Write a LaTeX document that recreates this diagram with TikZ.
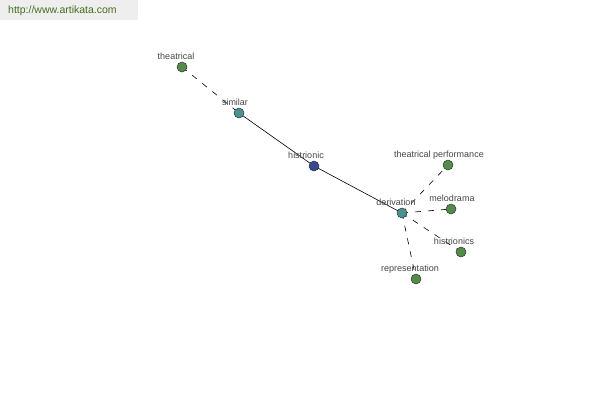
\documentclass[tikz,border=0pt]{standalone}
\usepackage{fontspec}
\setmainfont{Liberation Sans}
\definecolor{gnode}{RGB}{82,140,72}
\definecolor{tnode}{RGB}{74,146,146}
\definecolor{bnode}{RGB}{56,72,146}
\definecolor{lbl}{RGB}{70,70,70}
\definecolor{hdrbg}{RGB}{238,238,238}
\definecolor{hdrtx}{RGB}{70,110,30}
\begin{document}
\begin{tikzpicture}[x=1pt,y=-1pt,
  vert/.style={circle,draw=black!80,line width=0.5pt,minimum size=10pt,inner sep=0pt},
  gv/.style={vert,fill=gnode},
  tv/.style={vert,fill=tnode},
  bv/.style={vert,fill=bnode},
  lab/.style={font=\fontsize{9}{10}\selectfont,text=lbl,inner sep=0pt,anchor=base},
  solidedge/.style={draw=black,line width=0.6pt},
  dashedge/.style={draw=black,line width=0.6pt,dash pattern=on 6pt off 7pt}]
\useasboundingbox (0,0) rectangle (600,400);
\fill[white] (0,0) rectangle (600,400);
\fill[hdrbg] (0,0) rectangle (138,20);
\node[anchor=west,font=\fontsize{10.5}{12}\selectfont,text=hdrtx,inner sep=0pt] (hdr) at (8,11) {http://www.artikata.com};
% vertices
\coordinate (pt) at (182,67);
\coordinate (ps) at (239,113);
\coordinate (ph) at (314,166);
\coordinate (pd) at (402,213);
\coordinate (ptp) at (448,165);
\coordinate (pm) at (451,209);
\coordinate (phs) at (461,252);
\coordinate (pr) at (416,279);
% edges
\draw[dashedge] (pt) -- (ps);
\draw[solidedge] (ps) -- (ph);
\draw[solidedge] (ph) -- (pd);
\draw[dashedge] (pd) -- (ptp);
\draw[dashedge] (pd) -- (pm);
\draw[dashedge] (pd) -- (phs);
\draw[dashedge] (pd) -- (pr);
% nodes
\node[gv] (theatrical) at (pt) {};
\node[tv] (similar) at (ps) {};
\node[bv] (histrionic) at (ph) {};
\node[tv] (derivation) at (pd) {};
\node[gv] (tperf) at (ptp) {};
\node[gv] (melodrama) at (pm) {};
\node[gv] (histrionics) at (phs) {};
\node[gv] (representation) at (pr) {};
% labels
\node[lab] (l1) at (176,59) {theatrical};
\node[lab] (l2) at (235,105) {similar};
\node[lab] (l3) at (306,158) {histrionic};
\node[lab] (l4) at (396,205) {derivation};
\node[lab] (l5) at (439,157) {theatrical performance};
\node[lab] (l6) at (452,201) {melodrama};
\node[lab] (l7) at (454,244) {histrionics};
\node[lab] (l8) at (410,271) {representation};
\end{tikzpicture}
\end{document}
